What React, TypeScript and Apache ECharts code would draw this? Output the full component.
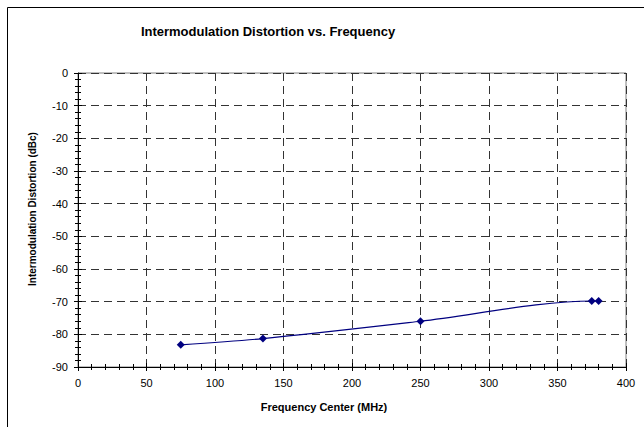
import React, { useEffect, useRef } from "react";
import * as echarts from "echarts";

const freqMHz = [75, 135, 250, 375, 380];
const imdDbc = [-83.2, -81.3, -76.0, -69.8, -69.8];
const xTicks = { min: 0, max: 400, interval: 50 };
const yTicks = { min: -90, max: 0, interval: 10 };
const titleText = "Intermodulation Distortion vs. Frequency";
const xName = "Frequency Center (MHz)";
const yName = "Intermodulation Distortion (dBc)";

const FONT = "'Liberation Sans', Arial, sans-serif";

export default function App() {
  const ref = useRef<HTMLDivElement>(null);
  useEffect(() => {
    if (!ref.current) return;
    const chart = echarts.init(ref.current, undefined, { renderer: "svg" });
    const dash = { type: [8, 5] as any, color: "#333", width: 1 };
    const baseX = {
      type: "value" as const,
      min: xTicks.min,
      max: xTicks.max,
      interval: xTicks.interval,
      position: "bottom" as const,
    };
    const baseY = {
      type: "value" as const,
      min: yTicks.min,
      max: yTicks.max,
      interval: yTicks.interval,
      position: "left" as const,
    };
    chart.setOption({
      animation: false,
      grid: {
        left: 78,
        right: 18,
        top: 73,
        bottom: 60,
        show: true,
        borderColor: "#808080",
        borderWidth: 1,
        backgroundColor: "transparent",
      },
      xAxis: [
        {
          ...baseX,
          axisLine: { show: true, onZero: false, lineStyle: { color: "#000", width: 1 } },
          axisTick: { show: true, inside: false, length: 4, lineStyle: { color: "#000" } },
          minorTick: { show: true, splitNumber: 5, length: 3, lineStyle: { color: "#000" } },
          axisLabel: { color: "#000", fontSize: 11, fontFamily: FONT, margin: 10 },
          splitLine: { show: true, lineStyle: dash },
          minorSplitLine: { show: false },
        },
        {
          ...baseX,
          axisLine: { show: false, onZero: false },
          axisTick: { show: true, inside: true, length: 4, lineStyle: { color: "#000" } },
          minorTick: { show: true, splitNumber: 5, length: 3, lineStyle: { color: "#000" } },
          axisLabel: { show: false },
          splitLine: { show: false },
        },
      ],
      yAxis: [
        {
          ...baseY,
          axisLine: { show: true, onZero: false, lineStyle: { color: "#000", width: 1 } },
          axisTick: { show: true, inside: false, length: 4, lineStyle: { color: "#000" } },
          minorTick: { show: true, splitNumber: 5, length: 3, lineStyle: { color: "#000" } },
          axisLabel: { color: "#000", fontSize: 11, fontFamily: FONT, margin: 10 },
          splitLine: { show: true, lineStyle: dash },
        },
        {
          ...baseY,
          axisLine: { show: false, onZero: false },
          axisTick: { show: true, inside: true, length: 4, lineStyle: { color: "#000" } },
          minorTick: { show: true, splitNumber: 5, length: 3, lineStyle: { color: "#000" } },
          axisLabel: { show: false },
          splitLine: { show: false },
        },
      ],
      series: [
        {
          type: "line",
          xAxisIndex: 0,
          yAxisIndex: 0,
          data: freqMHz.map((f, i) => [f, imdDbc[i]]),
          smooth: 0.3,
          symbol: "diamond",
          symbolSize: 8,
          lineStyle: { color: "#000080", width: 1.2 },
          itemStyle: { color: "#000080" },
        },
      ],
      graphic: [
        {
          type: "rect",
          shape: { x: 7.5, y: 7.5, width: 700, height: 500 },
          style: { fill: "none", stroke: "#000", lineWidth: 1 },
          silent: true,
        },
        {
          type: "text",
          style: {
            text: titleText,
            x: 268,
            y: 31,
            align: "center",
            verticalAlign: "middle",
            fontSize: 13,
            fontWeight: "bold",
            fontFamily: FONT,
            fill: "#000",
          },
        },
        {
          type: "text",
          style: {
            text: xName,
            x: 324,
            y: 407,
            align: "center",
            verticalAlign: "middle",
            fontSize: 11,
            fontWeight: "bold",
            fontFamily: FONT,
            fill: "#000",
          },
        },
        {
          type: "text",
          x: 32,
          y: 209,
          rotation: Math.PI / 2,
          style: {
            text: yName,
            x: 0,
            y: 0,
            align: "center",
            verticalAlign: "middle",
            fontSize: 10,
            fontWeight: "bold",
            fontFamily: FONT,
            fill: "#000",
          },
        },
      ],
    });
    return () => chart.dispose();
  }, []);
  return (
    <div
      ref={ref}
      style={{ position: "absolute", left: 0, top: 0, width: 644, height: 427, background: "#fff" }}
    />
  );
}
